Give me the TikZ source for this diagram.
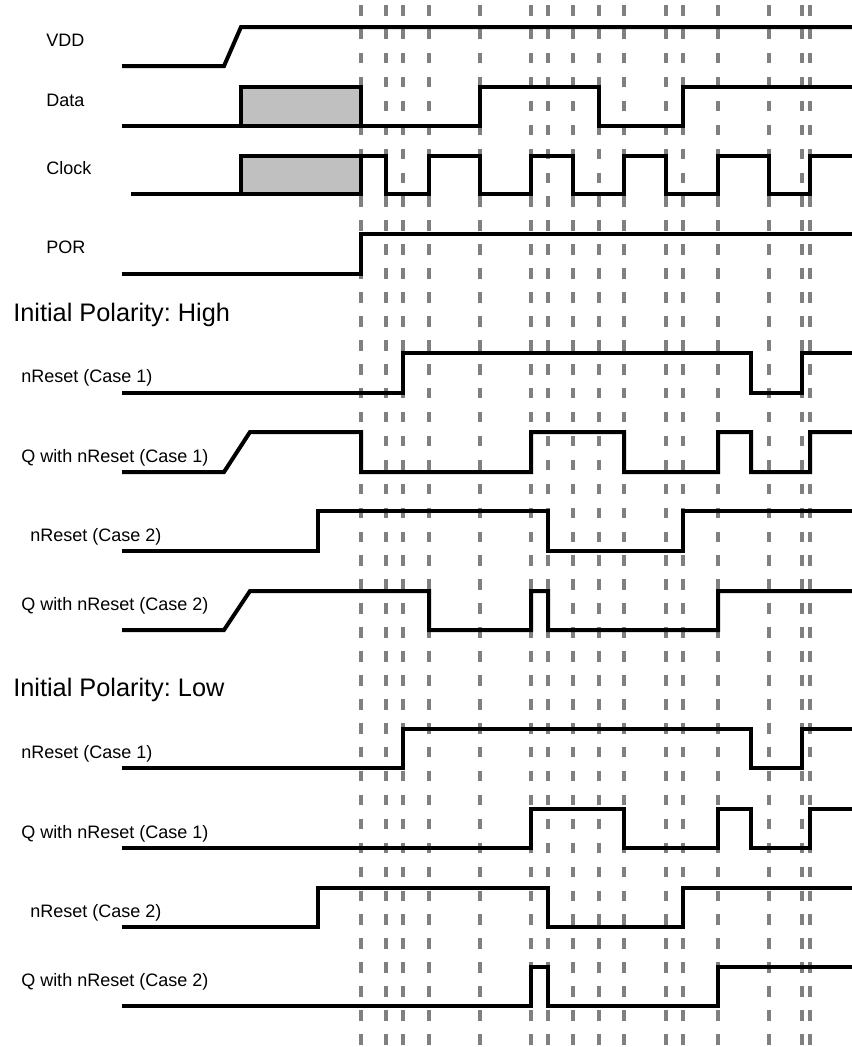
\documentclass[tikz,border=0pt]{standalone}
\usepackage{fontspec}
\setmainfont{Liberation Sans}
\definecolor{boxgray}{RGB}{192,192,192}
\frenchspacing
\begin{document}
\begin{tikzpicture}[x=0.75pt, y=-0.75pt,
  sig/.style={line width=3pt, line join=miter},
  grid/.style={draw=gray, line width=2.4pt, dash pattern=on 7.9pt off 10.05pt},
  lbl/.style={anchor=base west, inner sep=0pt, font=\fontsize{13.5}{15}\selectfont},
  head/.style={anchor=base west, inner sep=0pt, font=\fontsize{19}{22}\selectfont}]

\useasboundingbox (0,0) rectangle (852,1047);

% edge markers
\draw[grid] (361,5) -- (361,1047);
\draw[grid] (386,5) -- (386,1047);
\draw[grid] (403,5) -- (403,1047);
\draw[grid] (429,5) -- (429,1047);
\draw[grid] (480,5) -- (480,1047);
\draw[grid] (531,5) -- (531,1047);
\draw[grid] (548,5) -- (548,1047);
\draw[grid] (573,5) -- (573,1047);
\draw[grid] (599,5) -- (599,1047);
\draw[grid] (624,5) -- (624,1047);
\draw[grid] (666,5) -- (666,1047);
\draw[grid] (683,5) -- (683,1047);
\draw[grid] (718,5) -- (718,1047);
\draw[grid] (769,5) -- (769,1047);
\draw[grid] (802,5) -- (802,1047);
\draw[grid] (810,5) -- (810,1047);

% inputs
\node[lbl] (vdd) at (46,46) {VDD};
\draw[sig] (122,66) -- (224,66) -- (241,27) -- (852,27);

\node[lbl] (data) at (46,106) {Data};
\draw[sig] (122,126) -- (480,126) -- (480,87) -- (599,87) -- (599,126) -- (683,126) -- (683,87) -- (852,87);
\draw[sig, fill=boxgray] (241,126) rectangle (361,87);

\node[lbl] (clock) at (46,174) {Clock};
\draw[sig] (131,194) -- (241,194);
\draw[sig, fill=boxgray] (241,194) rectangle (361,156);
\draw[sig] (361,156) -- (386,156) -- (386,194) -- (429,194) -- (429,156) -- (480,156) -- (480,194) -- (531,194) -- (531,156) -- (573,156) -- (573,194) -- (624,194) -- (624,156) -- (666,156) -- (666,194) -- (718,194) -- (718,156) -- (769,156) -- (769,194) -- (810,194) -- (810,156) -- (852,156);

\node[lbl] (por) at (46,253) {POR};
\draw[sig] (122,274) -- (361,274) -- (361,234) -- (852,234);

% initial polarity high
\node[head] (high) at (13,321) {Initial Polarity: High};

\node[lbl] (hnr1) at (21,382) {nReset (Case 1)};
\draw[sig] (122,393) -- (403,393) -- (403,353) -- (751,353) -- (751,393) -- (802,393) -- (802,353) -- (852,353);

\node[lbl] (hq1) at (21,462) {Q with nReset (Case 1)};
\draw[sig] (122,472) -- (224,472) -- (250,432) -- (361,432) -- (361,472) -- (531,472) -- (531,432) -- (624,432) -- (624,472) -- (718,472) -- (718,432) -- (751,432) -- (751,472) -- (810,472) -- (810,432) -- (852,432);

\node[lbl] (hnr2) at (30,541) {nReset (Case 2)};
\draw[sig] (122,551) -- (318,551) -- (318,511) -- (548,511) -- (548,551) -- (683,551) -- (683,511) -- (852,511);

\node[lbl] (hq2) at (21,610) {Q with nReset (Case 2)};
\draw[sig] (122,630) -- (224,630) -- (250,591) -- (429,591) -- (429,630) -- (531,630) -- (531,591) -- (548,591) -- (548,630) -- (718,630) -- (718,591) -- (852,591);

% initial polarity low
\node[head] (low) at (13,696) {Initial Polarity: Low};

\node[lbl] (lnr1) at (21,758) {nReset (Case 1)};
\draw[sig] (122,768) -- (403,768) -- (403,729) -- (751,729) -- (751,768) -- (802,768) -- (802,729) -- (852,729);

\node[lbl] (lq1) at (21,838) {Q with nReset (Case 1)};
\draw[sig] (122,848) -- (531,848) -- (531,809) -- (624,809) -- (624,848) -- (718,848) -- (718,809) -- (751,809) -- (751,848) -- (810,848) -- (810,809) -- (852,809);

\node[lbl] (lnr2) at (30,917) {nReset (Case 2)};
\draw[sig] (122,927) -- (318,927) -- (318,888) -- (548,888) -- (548,927) -- (683,927) -- (683,888) -- (852,888);

\node[lbl] (lq2) at (21,986) {Q with nReset (Case 2)};
\draw[sig] (122,1006) -- (531,1006) -- (531,967) -- (548,967) -- (548,1006) -- (718,1006) -- (718,967) -- (852,967);

\end{tikzpicture}
\end{document}
